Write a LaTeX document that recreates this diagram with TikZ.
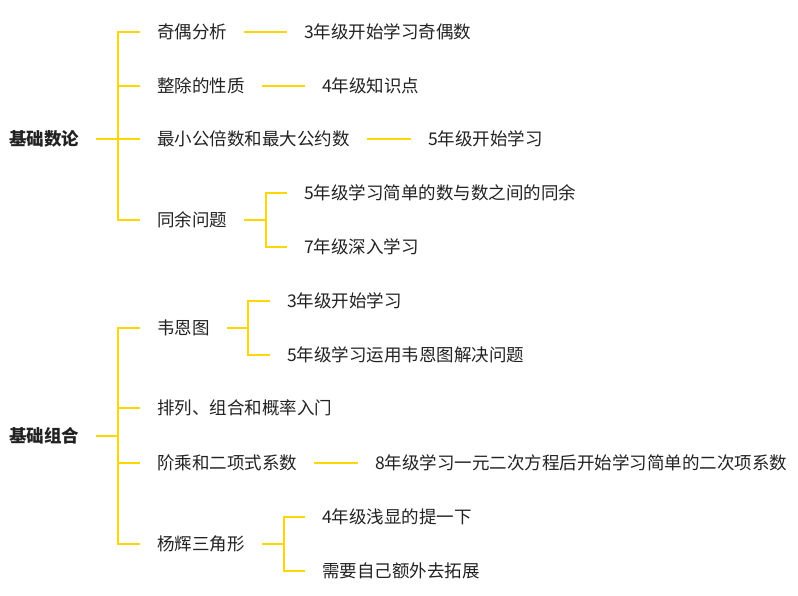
\documentclass[tikz,border=0pt]{standalone}
\usepackage{fontspec}
\setmainfont{Noto Sans CJK SC}
\definecolor{ln}{HTML}{FFD700}
\definecolor{tx}{HTML}{222222}
\begin{document}
\begin{tikzpicture}[x=1pt,y=-1pt,
  lbl/.style={anchor=west, inner xsep=17pt, inner ysep=0pt, font=\fontsize{17.5}{20}\selectfont, text=tx},
  rootlbl/.style={lbl, font=\fontsize{17.5}{20}\selectfont\bfseries},
  conn/.style={draw=ln, line width=2.5pt, line join=miter}]
\useasboundingbox[fill=white] (0,0) rectangle (798,596);
% ---- 基础数论 ----
\node[rootlbl] (r1) at (-8,139) {基础数论};
\node[lbl] (a1) at (140,32) {奇偶分析};
\node[lbl] (a2) at (140,86) {整除的性质};
\node[lbl] (a3) at (140,139) {最小公倍数和最大公约数};
\node[lbl] (a4) at (140,220) {同余问题};
\node[lbl] (b1) at (287,32) {3年级开始学习奇偶数};
\node[lbl] (b2) at (305,86) {4年级知识点};
\node[lbl] (b3) at (411,139) {5年级开始学习};
\node[lbl] (b4) at (287,193) {5年级学习简单的数与数之间的同余};
\node[lbl] (b5) at (287,247) {7年级深入学习};
\coordinate (j1) at (118,139);
\coordinate (k1) at (266,220);
\draw[conn] (r1.east) -- (j1);
\foreach \c in {a1,a2,a3,a4} \draw[conn] (j1) |- (\c.west);
\draw[conn] (a1.east) -- (b1.west);
\draw[conn] (a2.east) -- (b2.west);
\draw[conn] (a3.east) -- (b3.west);
\draw[conn] (a4.east) -- (k1);
\draw[conn] (k1) |- (b4.west);
\draw[conn] (k1) |- (b5.west);
% ---- 基础组合 ----
\node[rootlbl] (r2) at (-8,436) {基础组合};
\node[lbl] (c1) at (140,328) {韦恩图};
\node[lbl] (c2) at (140,408) {排列、组合和概率入门};
\node[lbl] (c3) at (140,463) {阶乘和二项式系数};
\node[lbl] (c4) at (140,544) {杨辉三角形};
\node[lbl] (d1) at (270,301) {3年级开始学习};
\node[lbl] (d2) at (270,355) {5年级学习运用韦恩图解决问题};
\node[lbl] (d3) at (358,463) {8年级学习一元二次方程后开始学习简单的二次项系数};
\node[lbl] (d4) at (305,517) {4年级浅显的提一下};
\node[lbl] (d5) at (305,571) {需要自己额外去拓展};
\coordinate (j2) at (118,436);
\coordinate (k2) at (248,328);
\coordinate (k3) at (284,544);
\draw[conn] (r2.east) -- (j2);
\foreach \c in {c1,c2,c3,c4} \draw[conn] (j2) |- (\c.west);
\draw[conn] (c1.east) -- (k2);
\draw[conn] (k2) |- (d1.west);
\draw[conn] (k2) |- (d2.west);
\draw[conn] (c3.east) -- (d3.west);
\draw[conn] (c4.east) -- (k3);
\draw[conn] (k3) |- (d4.west);
\draw[conn] (k3) |- (d5.west);
\end{tikzpicture}
\end{document}
